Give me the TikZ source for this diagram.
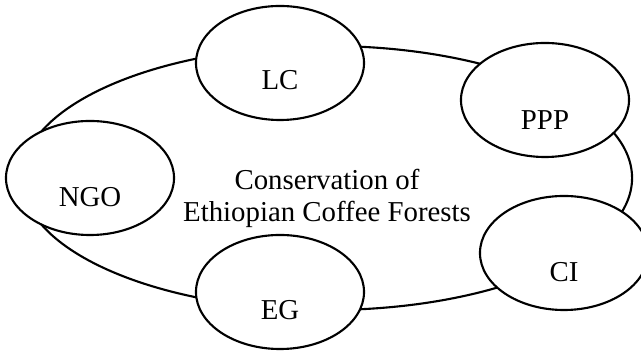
\documentclass[tikz,border=0pt]{standalone}
\usepackage{fontspec}
\setmainfont{Liberation Serif}
\usepackage{tikz}
\usetikzlibrary{shapes.geometric}
\tikzstyle{ring} = [draw, ellipse, line width=1.5pt, minimum width=15.25cm, minimum height=6.6cm, inner sep=0pt]
\tikzstyle{actor} = [draw, ellipse, fill=white, line width=1.5pt, minimum width=4.2cm, minimum height=2.85cm, inner sep=0pt]
\tikzstyle{tag} = [font=\fontsize{20.5}{22.7}\selectfont, align=center, inner sep=0pt]

\begin{document}
\begin{tikzpicture}[x=0.025cm, y=-0.025cm]
	\useasboundingbox (0,0) rectangle (641,352);
	\node [ring] (forest) at (327,178) {};
	\node [tag] (theme) at ([yshift=-0.51cm]forest.center) {Conservation of\\Ethiopian Coffee Forests};
	% the five actors round the forest
	\node [actor] (lc) at (280,63) {};
	\node [tag] at ([yshift=-0.43cm]lc.center) {LC};
	\node [actor] (ppp) at (545,100) {};
	\node [tag] at ([yshift=-0.5cm]ppp.center) {PPP};
	\node [actor] (ngo) at (90,178) {};
	\node [tag] at ([yshift=-0.47cm]ngo.center) {NGO};
	\node [actor] (eg) at (280,292) {};
	\node [tag] at ([yshift=-0.45cm]eg.center) {EG};
	\node [actor] (ci) at (564,253) {};
	\node [tag] at ([yshift=-0.47cm]ci.center) {CI};
\end{tikzpicture}
\end{document}
